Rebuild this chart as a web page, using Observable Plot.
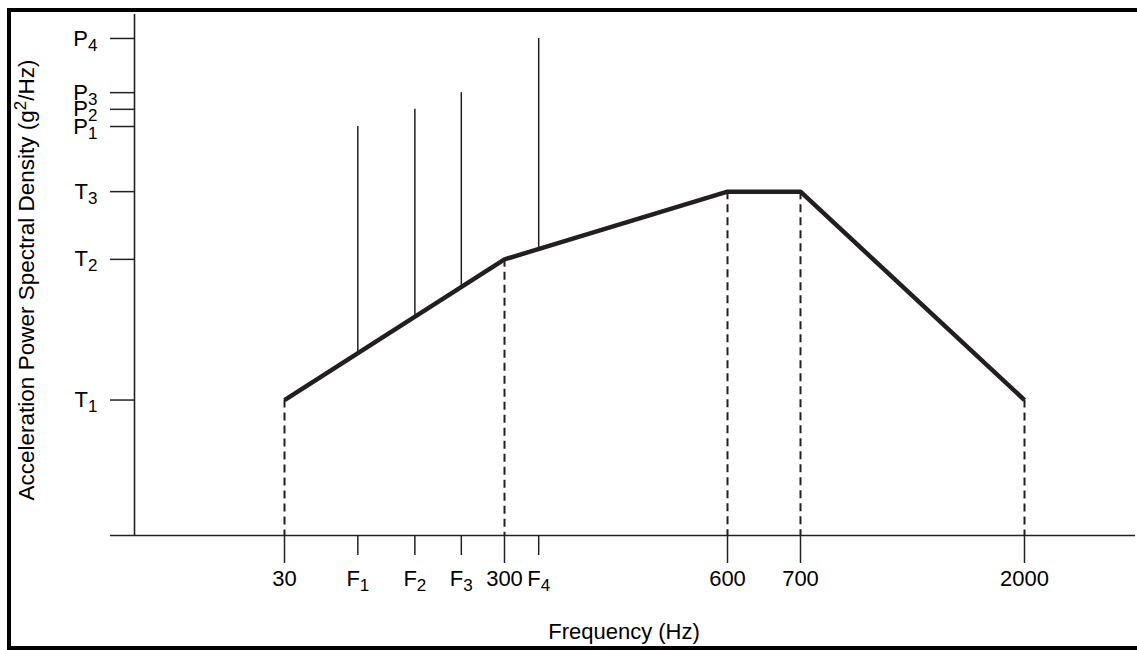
<!DOCTYPE html>
<html>
<head>
<meta charset="utf-8">
<script src="https://cdn.jsdelivr.net/npm/d3@7"></script>
<script src="https://cdn.jsdelivr.net/npm/@observablehq/plot@0.6"></script>
<style>
  html, body { margin: 0; padding: 0; background: #fff; }
  #chart { position: relative; width: 1137px; height: 650px; overflow: hidden; }
  #chart svg { position: absolute; left: 0; top: 0; }
  #border {
    position: absolute; left: 7px; top: 8px; width: 1140px; height: 642px;
    box-sizing: border-box; pointer-events: none;
    border-top: 4px solid #000; border-left: 4px solid #000; border-bottom: 4px solid #000;
  }
</style>
</head>
<body>
<div id="chart"><div id="border"></div></div>
<script>
// Break-point frequencies of the random vibration profile (Hz) and the level at each
const breakFreqs = [30, 300, 600, 700, 2000];
const breakLevels = ["T1", "T2", "T3", "T3", "T1"];

// Named PSD levels on the vertical axis (relative units)
const levelNames = ["T1", "T2", "T3", "P1", "P2", "P3", "P4"];
const levelValues = [26, 53, 66, 78.5, 81.8, 85, 95.4];

// Sinusoidal tones superimposed on the background: frequency label, frequency (Hz), peak level
const toneNames = ["F1", "F2", "F3", "F4"];
const toneFreqs = [120, 190, 247, 346];
const tonePeaks = ["P1", "P2", "P3", "P4"];

const xTitle = "Frequency (Hz)";
const yTitle = "Acceleration Power Spectral Density (g^2/Hz)";

const level = name => levelValues[levelNames.indexOf(name)];
const subName = name => name[0] + "_" + name.slice(1);

const profile = breakFreqs.map((f, i) => ({f, v: level(breakLevels[i])}));

// Background level at a frequency, following the straight profile segments
function profileAt(f) {
  for (let i = 0; i < profile.length - 1; i++) {
    const a = profile[i], b = profile[i + 1];
    if (f >= a.f && f <= b.f) return a.v + (b.v - a.v) * (f - a.f) / (b.f - a.f);
  }
  return NaN;
}

const tones = toneFreqs.map((f, i) => ({f, name: toneNames[i], base: profileAt(f), peak: level(tonePeaks[i])}));

const ink = "#231f20";
const axisInk = "#222";

const svg = Plot.plot({
  width: 1137,
  height: 650,
  marginLeft: 134,
  marginRight: 2,
  marginTop: 14,
  marginBottom: 115,
  style: {fontFamily: "'Liberation Sans', Arial, Helvetica, sans-serif", fontSize: "22px", color: "#000", background: "transparent"},
  // schematic frequency axis: evenly drawn segments between the break points
  x: {type: "linear", domain: [0, ...breakFreqs], range: [134, 284, 504, 727, 800, 1024]},
  y: {type: "linear", domain: [0, 100], range: [535, 14]},
  marks: [
    // axis lines
    Plot.ruleY([0], {insetLeft: -24, stroke: axisInk, strokeWidth: 1.6}),
    Plot.ruleX([0], {stroke: axisInk, strokeWidth: 1.6}),
    // level ticks
    Plot.axisY({
      ticks: levelValues, tickSize: 24, tickPadding: 13, label: null,
      stroke: axisInk, strokeWidth: 1.5, fill: "#000",
      tickFormat: d => subName(levelNames[levelValues.indexOf(d)])
    }),
    // break-point frequency ticks
    Plot.axisX({
      ticks: breakFreqs, tickSize: 28, tickPadding: 7, label: null,
      stroke: axisInk, strokeWidth: 1.5, fill: "#000",
      tickFormat: d => String(d)
    }),
    // tone frequency ticks
    Plot.axisX({
      ticks: toneFreqs, tickSize: 20, tickPadding: 15, label: null,
      stroke: axisInk, strokeWidth: 1.5, fill: "#000",
      tickFormat: d => subName(toneNames[toneFreqs.indexOf(d)])
    }),
    // dashed drop lines from each break point
    Plot.ruleX(profile, {x: "f", y1: "v", y2: 0, stroke: ink, strokeWidth: 2, strokeDasharray: "8,5"}),
    // sine tones standing on the background
    Plot.ruleX(tones, {x: "f", y1: "base", y2: "peak", stroke: ink, strokeWidth: 1.5}),
    // broadband profile
    Plot.line(profile, {x: "f", y: "v", stroke: ink, strokeWidth: 4.5, strokeLinecap: "butt", strokeLinejoin: "miter"}),
    // axis titles
    Plot.text([xTitle], {frameAnchor: "bottom", lineAnchor: "top", dx: -11, dy: 88, fill: "#000"}),
    Plot.text([yTitle], {frameAnchor: "left", rotate: -90, lineAnchor: "top", textAnchor: "middle", dx: -116, dy: 5, fill: "#000", fontSize: 22.5})
  ]
});

// Render "X_n" as a subscript and "x^n" as a superscript
function richText(el) {
  const s = el.textContent;
  if (!/[_^]\w/.test(s)) return;
  el.textContent = "";
  let shift = 0;
  for (const p of s.split(/([_^]\w)/)) {
    if (!p) continue;
    const t = document.createElementNS("http://www.w3.org/2000/svg", "tspan");
    if (p[0] === "_" || p[0] === "^") {
      const d = p[0] === "_" ? 5 : -8;
      t.setAttribute("dy", d - shift);
      shift = d;
      t.setAttribute("font-size", "17");
      t.textContent = p.slice(1);
    } else {
      if (shift) t.setAttribute("dy", -shift);
      shift = 0;
      t.textContent = p;
    }
    el.appendChild(t);
  }
}
svg.querySelectorAll("text").forEach(richText);

document.getElementById("chart").prepend(svg);
</script>
</body>
</html>
